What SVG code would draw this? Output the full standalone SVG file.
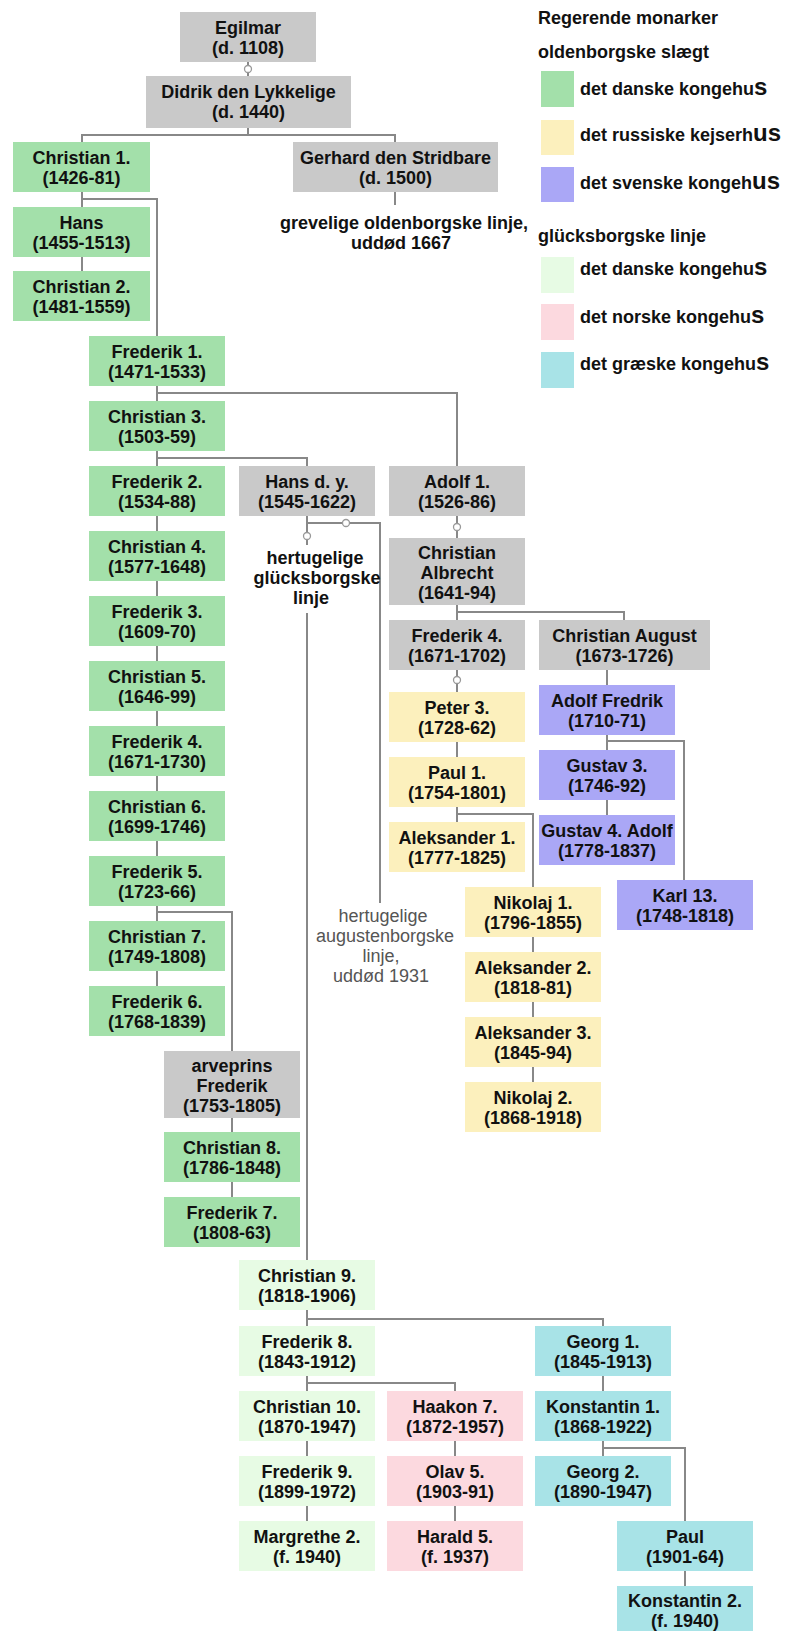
<svg xmlns="http://www.w3.org/2000/svg" width="798" height="1631" viewBox="0 0 798 1631">
<style>
text{font-family:"Liberation Sans",Arial,sans-serif;font-weight:bold;font-size:18px;fill:#111}
.n text{text-anchor:middle}
.g{fill:#c9c9c9}.dk{fill:#a3e0aa}.ru{fill:#fcf0bd}.sv{fill:#aaa7f6}.gl{fill:#e7fbe4}.no{fill:#fcd9df}.gr{fill:#a8e3e7}
#connectors path{stroke:#888;stroke-width:2;fill:none}
#connectors circle{fill:#fff;stroke:#999;stroke-width:1.3}
.note{font-weight:normal;fill:#555}
.big{font-size:24px}
</style>
<rect width="798" height="1631" fill="#fff"/>
<g id="connectors">
<path d="M248 62V76M248 128V135M82 142V135H395V142M395 192V205"/>
<path d="M82 192V207M82 257V271M82 192V199H157V336"/>
<path d="M157 386V401M157 393H457V466M157 451V466M157 458H307V466"/>
<path d="M157 516V531M157 581V596M157 646V661M157 711V726M157 776V791M157 841V856M157 906V921M157 971V986"/>
<path d="M157 906V912H232V1051M232 1118V1132M232 1182V1197"/>
<path d="M307 516V545M307 523H380V903M307 613V1260"/>
<path d="M457 516V538M457 605V620M457 612H624V620M457 670V692M607 670V685"/>
<path d="M457 742V757M457 807V822M457 814H533V887M533 937V952M533 1002V1017M533 1067V1082"/>
<path d="M607 735V750M607 741H684V880M607 800V815"/>
<path d="M307 1310V1326M307 1319H603V1326M307 1376V1391M307 1383H455V1391M307 1441V1456M307 1506V1521M455 1441V1456M455 1506V1521"/>
<path d="M603 1376V1391M603 1441V1456M603 1448H685V1521M685 1571V1586"/>
<circle cx="248" cy="69" r="3.5"/>
<circle cx="307" cy="536" r="3.5"/>
<circle cx="346" cy="523" r="3.5"/>
<circle cx="457" cy="527" r="3.5"/>
<circle cx="457" cy="680" r="3.5"/>
</g>
<g id="egilmar" class="n"><rect class="g" x="180" y="12" width="136" height="50"/><text x="248" y="34">Egilmar<tspan x="248" dy="20">(d. 1108)</tspan></text></g>
<g id="didrik" class="n"><rect class="g" x="146" y="76" width="205" height="52"/><text x="248.5" y="98">Didrik den Lykkelige<tspan x="248.5" dy="20">(d. 1440)</tspan></text></g>
<g id="gerhard" class="n"><rect class="g" x="293" y="142" width="205" height="50"/><text x="395.5" y="164">Gerhard den Stridbare<tspan x="395.5" dy="20">(d. 1500)</tspan></text></g>
<g id="grevelige" class="n"><text x="404" y="229">grevelige oldenborgske linje,</text><text x="401" y="249">uddød 1667</text></g>
<g id="christian1" class="n"><rect class="dk" x="13" y="142" width="137" height="50"/><text x="81.5" y="164">Christian 1.<tspan x="81.5" dy="20">(1426-81)</tspan></text></g>
<g id="hans" class="n"><rect class="dk" x="13" y="207" width="137" height="50"/><text x="81.5" y="229">Hans<tspan x="81.5" dy="20">(1455-1513)</tspan></text></g>
<g id="christian2" class="n"><rect class="dk" x="13" y="271" width="137" height="50"/><text x="81.5" y="293">Christian 2.<tspan x="81.5" dy="20">(1481-1559)</tspan></text></g>
<g id="frederik1" class="n"><rect class="dk" x="89" y="336" width="136" height="50"/><text x="157" y="358">Frederik 1.<tspan x="157" dy="20">(1471-1533)</tspan></text></g>
<g id="christian3" class="n"><rect class="dk" x="89" y="401" width="136" height="50"/><text x="157" y="423">Christian 3.<tspan x="157" dy="20">(1503-59)</tspan></text></g>
<g id="frederik2" class="n"><rect class="dk" x="89" y="466" width="136" height="50"/><text x="157" y="488">Frederik 2.<tspan x="157" dy="20">(1534-88)</tspan></text></g>
<g id="christian4" class="n"><rect class="dk" x="89" y="531" width="136" height="50"/><text x="157" y="553">Christian 4.<tspan x="157" dy="20">(1577-1648)</tspan></text></g>
<g id="frederik3" class="n"><rect class="dk" x="89" y="596" width="136" height="50"/><text x="157" y="618">Frederik 3.<tspan x="157" dy="20">(1609-70)</tspan></text></g>
<g id="christian5" class="n"><rect class="dk" x="89" y="661" width="136" height="50"/><text x="157" y="683">Christian 5.<tspan x="157" dy="20">(1646-99)</tspan></text></g>
<g id="frederik4" class="n"><rect class="dk" x="89" y="726" width="136" height="50"/><text x="157" y="748">Frederik 4.<tspan x="157" dy="20">(1671-1730)</tspan></text></g>
<g id="christian6" class="n"><rect class="dk" x="89" y="791" width="136" height="50"/><text x="157" y="813">Christian 6.<tspan x="157" dy="20">(1699-1746)</tspan></text></g>
<g id="frederik5" class="n"><rect class="dk" x="89" y="856" width="136" height="50"/><text x="157" y="878">Frederik 5.<tspan x="157" dy="20">(1723-66)</tspan></text></g>
<g id="christian7" class="n"><rect class="dk" x="89" y="921" width="136" height="50"/><text x="157" y="943">Christian 7.<tspan x="157" dy="20">(1749-1808)</tspan></text></g>
<g id="frederik6" class="n"><rect class="dk" x="89" y="986" width="136" height="50"/><text x="157" y="1008">Frederik 6.<tspan x="157" dy="20">(1768-1839)</tspan></text></g>
<g id="hansdy" class="n"><rect class="g" x="239" y="466" width="136" height="50"/><text x="307" y="488">Hans d. y.<tspan x="307" dy="20">(1545-1622)</tspan></text></g>
<g id="gluecksborg-note" class="n"><text x="315" y="564">hertugelige<tspan x="317" dy="20">glücksborgske</tspan><tspan x="311" dy="20">linje</tspan></text></g>
<g id="augustenborg-note" class="n"><text class="note" x="383" y="922">hertugelige<tspan x="385" dy="20">augustenborgske</tspan><tspan x="381" dy="20">linje,</tspan><tspan x="381" dy="20">uddød 1931</tspan></text></g>
<g id="adolf1" class="n"><rect class="g" x="389" y="466" width="136" height="50"/><text x="457" y="488">Adolf 1.<tspan x="457" dy="20">(1526-86)</tspan></text></g>
<g id="christianalbrecht" class="n"><rect class="g" x="389" y="538" width="136" height="67"/><text x="457" y="559">Christian<tspan x="457" dy="20">Albrecht</tspan><tspan x="457" dy="20">(1641-94)</tspan></text></g>
<g id="frederik4h" class="n"><rect class="g" x="389" y="620" width="136" height="50"/><text x="457" y="642">Frederik 4.<tspan x="457" dy="20">(1671-1702)</tspan></text></g>
<g id="christianaugust" class="n"><rect class="g" x="539" y="620" width="171" height="50"/><text x="624.5" y="642">Christian August<tspan x="624.5" dy="20">(1673-1726)</tspan></text></g>
<g id="peter3" class="n"><rect class="ru" x="389" y="692" width="136" height="50"/><text x="457" y="714">Peter 3.<tspan x="457" dy="20">(1728-62)</tspan></text></g>
<g id="paul1" class="n"><rect class="ru" x="389" y="757" width="136" height="50"/><text x="457" y="779">Paul 1.<tspan x="457" dy="20">(1754-1801)</tspan></text></g>
<g id="aleksander1" class="n"><rect class="ru" x="389" y="822" width="136" height="50"/><text x="457" y="844">Aleksander 1.<tspan x="457" dy="20">(1777-1825)</tspan></text></g>
<g id="nikolaj1" class="n"><rect class="ru" x="465" y="887" width="136" height="50"/><text x="533" y="909">Nikolaj 1.<tspan x="533" dy="20">(1796-1855)</tspan></text></g>
<g id="aleksander2" class="n"><rect class="ru" x="465" y="952" width="136" height="50"/><text x="533" y="974">Aleksander 2.<tspan x="533" dy="20">(1818-81)</tspan></text></g>
<g id="aleksander3" class="n"><rect class="ru" x="465" y="1017" width="136" height="50"/><text x="533" y="1039">Aleksander 3.<tspan x="533" dy="20">(1845-94)</tspan></text></g>
<g id="nikolaj2" class="n"><rect class="ru" x="465" y="1082" width="136" height="50"/><text x="533" y="1104">Nikolaj 2.<tspan x="533" dy="20">(1868-1918)</tspan></text></g>
<g id="adolffredrik" class="n"><rect class="sv" x="539" y="685" width="136" height="50"/><text x="607" y="707">Adolf Fredrik<tspan x="607" dy="20">(1710-71)</tspan></text></g>
<g id="gustav3" class="n"><rect class="sv" x="539" y="750" width="136" height="50"/><text x="607" y="772">Gustav 3.<tspan x="607" dy="20">(1746-92)</tspan></text></g>
<g id="gustav4adolf" class="n"><rect class="sv" x="539" y="815" width="136" height="50"/><text x="607" y="837">Gustav 4. Adolf<tspan x="607" dy="20">(1778-1837)</tspan></text></g>
<g id="karl13" class="n"><rect class="sv" x="617" y="880" width="136" height="50"/><text x="685" y="902">Karl 13.<tspan x="685" dy="20">(1748-1818)</tspan></text></g>
<g id="arveprins" class="n"><rect class="g" x="164" y="1051" width="136" height="67"/><text x="232" y="1072">arveprins<tspan x="232" dy="20">Frederik</tspan><tspan x="232" dy="20">(1753-1805)</tspan></text></g>
<g id="christian8" class="n"><rect class="dk" x="164" y="1132" width="136" height="50"/><text x="232" y="1154">Christian 8.<tspan x="232" dy="20">(1786-1848)</tspan></text></g>
<g id="frederik7" class="n"><rect class="dk" x="164" y="1197" width="136" height="50"/><text x="232" y="1219">Frederik 7.<tspan x="232" dy="20">(1808-63)</tspan></text></g>
<g id="christian9" class="n"><rect class="gl" x="239" y="1260" width="136" height="50"/><text x="307" y="1282">Christian 9.<tspan x="307" dy="20">(1818-1906)</tspan></text></g>
<g id="frederik8" class="n"><rect class="gl" x="239" y="1326" width="136" height="50"/><text x="307" y="1348">Frederik 8.<tspan x="307" dy="20">(1843-1912)</tspan></text></g>
<g id="christian10" class="n"><rect class="gl" x="239" y="1391" width="136" height="50"/><text x="307" y="1413">Christian 10.<tspan x="307" dy="20">(1870-1947)</tspan></text></g>
<g id="frederik9" class="n"><rect class="gl" x="239" y="1456" width="136" height="50"/><text x="307" y="1478">Frederik 9.<tspan x="307" dy="20">(1899-1972)</tspan></text></g>
<g id="margrethe2" class="n"><rect class="gl" x="239" y="1521" width="136" height="50"/><text x="307" y="1543">Margrethe 2.<tspan x="307" dy="20">(f. 1940)</tspan></text></g>
<g id="haakon7" class="n"><rect class="no" x="387" y="1391" width="136" height="50"/><text x="455" y="1413">Haakon 7.<tspan x="455" dy="20">(1872-1957)</tspan></text></g>
<g id="olav5" class="n"><rect class="no" x="387" y="1456" width="136" height="50"/><text x="455" y="1478">Olav 5.<tspan x="455" dy="20">(1903-91)</tspan></text></g>
<g id="harald5" class="n"><rect class="no" x="387" y="1521" width="136" height="50"/><text x="455" y="1543">Harald 5.<tspan x="455" dy="20">(f. 1937)</tspan></text></g>
<g id="georg1" class="n"><rect class="gr" x="535" y="1326" width="136" height="50"/><text x="603" y="1348">Georg 1.<tspan x="603" dy="20">(1845-1913)</tspan></text></g>
<g id="konstantin1" class="n"><rect class="gr" x="535" y="1391" width="136" height="50"/><text x="603" y="1413">Konstantin 1.<tspan x="603" dy="20">(1868-1922)</tspan></text></g>
<g id="georg2" class="n"><rect class="gr" x="535" y="1456" width="136" height="50"/><text x="603" y="1478">Georg 2.<tspan x="603" dy="20">(1890-1947)</tspan></text></g>
<g id="paul" class="n"><rect class="gr" x="617" y="1521" width="136" height="50"/><text x="685" y="1543">Paul<tspan x="685" dy="20">(1901-64)</tspan></text></g>
<g id="konstantin2" class="n"><rect class="gr" x="617" y="1586" width="136" height="50"/><text x="685" y="1607">Konstantin 2.<tspan x="685" dy="20">(f. 1940)</tspan></text></g>
<g id="legend">
<text x="538" y="24">Regerende monarker</text>
<text x="538" y="58">oldenborgske slægt</text>
<rect class="dk" x="541" y="71" width="33" height="36"/><text x="580" y="95">det danske kongehu<tspan class="big">s</tspan></text>
<rect class="ru" x="541" y="120" width="33" height="35"/><text x="580" y="141">det russiske kejserh<tspan class="big">us</tspan></text>
<rect class="sv" x="541" y="167" width="33" height="35"/><text x="580" y="189">det svenske kongeh<tspan class="big">us</tspan></text>
<text x="538" y="242">glücksborgske linje</text>
<rect class="gl" x="541" y="257" width="33" height="36"/><text x="580" y="275">det danske kongehu<tspan class="big">s</tspan></text>
<rect class="no" x="541" y="304" width="33" height="36"/><text x="580" y="323">det norske kongehu<tspan class="big">s</tspan></text>
<rect class="gr" x="541" y="352" width="33" height="36"/><text x="580" y="370">det græske kongehu<tspan class="big">s</tspan></text>
</g>
</svg>
